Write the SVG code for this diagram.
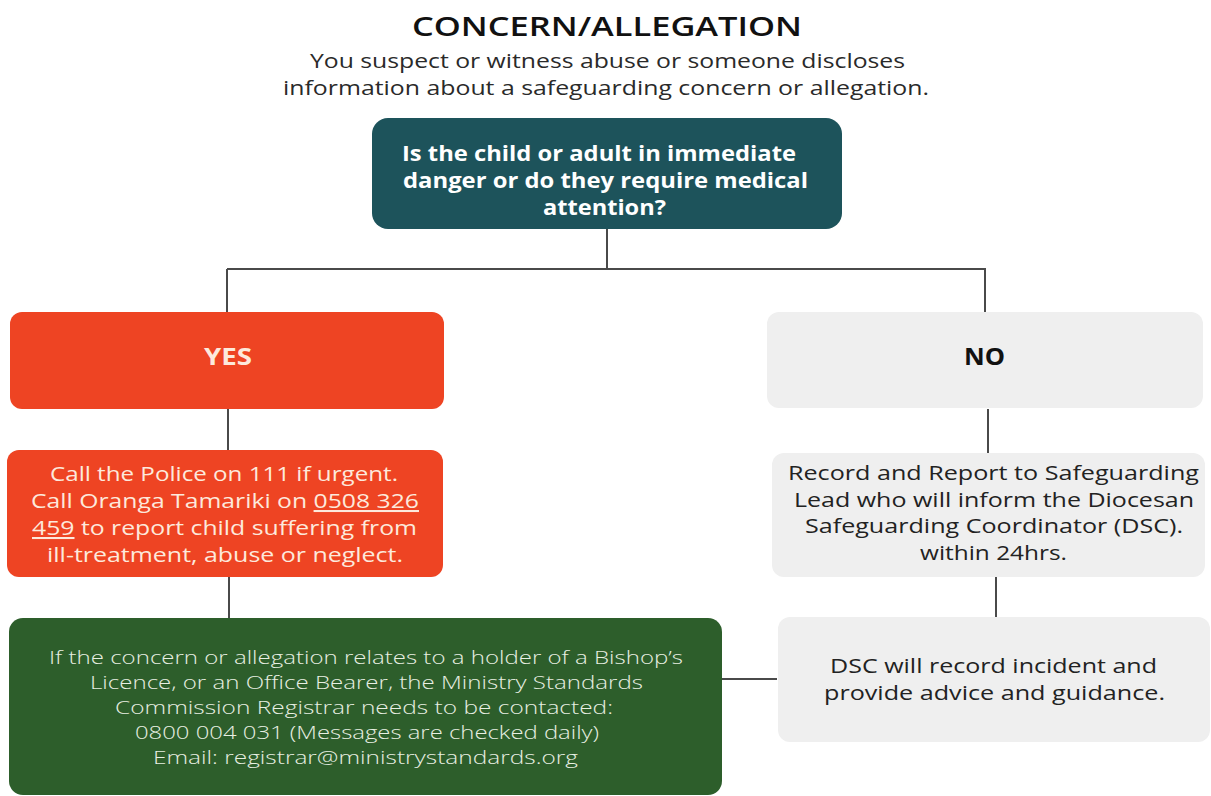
<svg xmlns="http://www.w3.org/2000/svg" width="1211" height="796" viewBox="0 0 1211 796">
  <style>
    text { font-family: "Open Sans", "Liberation Sans", sans-serif; }
    .title { font-size: 27px; font-weight: 600; fill: #111; }
    .sub { font-size: 20px; fill: #2a2a2a; }
    .q { font-size: 20.5px; font-weight: 700; fill: #ffffff; }
    .head { font-size: 24px; font-weight: 700; }
    .body { font-size: 20.5px; }
    .light { font-size: 18px; font-weight: 300; fill: #e8efe2; }
    .conn { stroke: #4a4a4a; stroke-width: 2; fill: none; }
  </style>
  <rect width="1211" height="796" fill="#ffffff"/>

  <g id="title">
    <text class="title" x="412" y="36" textLength="390" lengthAdjust="spacingAndGlyphs">CONCERN/ALLEGATION</text>
    <text class="sub" x="310" y="68" textLength="595" lengthAdjust="spacingAndGlyphs">You suspect  or witness  abuse or someone discloses</text>
    <text class="sub" x="283" y="95" textLength="646" lengthAdjust="spacingAndGlyphs">information about  a safeguarding concern or allegation.</text>
  </g>

  <g id="connectors">
    <path class="conn" d="M607 229 V269 M227 269 H986 M227 269 V312 M985 269 V312"/>
    <path class="conn" d="M228 409 V450"/>
    <path class="conn" d="M229 577 V618"/>
    <path class="conn" d="M988 409 V453"/>
    <path class="conn" d="M996 577 V617"/>
    <path class="conn" d="M722 679 H777"/>
  </g>

  <g id="question">
    <rect x="372" y="118" width="470" height="111" rx="16" fill="#1d535b"/>
    <text class="q" x="402" y="161" textLength="394" lengthAdjust="spacingAndGlyphs">Is the child or adult in immediate</text>
    <text class="q" x="403" y="188" textLength="405" lengthAdjust="spacingAndGlyphs">danger or do they require medical</text>
    <text class="q" x="543" y="215" textLength="123" lengthAdjust="spacingAndGlyphs">attention?</text>
  </g>

  <g id="yes">
    <rect x="10" y="312" width="434" height="97" rx="12" fill="#ee4423"/>
    <text class="head" x="204" y="365" fill="#fde9dc" textLength="48" lengthAdjust="spacingAndGlyphs">YES</text>
  </g>

  <g id="call-police">
    <rect x="7" y="450" width="436" height="127" rx="12" fill="#ee4423"/>
    <g class="body" fill="#fde9dc">
      <text x="50" y="481" textLength="348" lengthAdjust="spacingAndGlyphs">Call the Police  on 111 if urgent.</text>
      <text x="31" y="508" textLength="388" lengthAdjust="spacingAndGlyphs">Call Oranga Tamariki on <tspan text-decoration="underline">0508 326</tspan></text>
      <text x="32" y="535" textLength="385" lengthAdjust="spacingAndGlyphs"><tspan text-decoration="underline">459</tspan> to report child suffering from</text>
      <text x="47" y="562" textLength="356" lengthAdjust="spacingAndGlyphs">ill-treatment, abuse or neglect.</text>
    </g>
  </g>

  <g id="registrar">
    <rect x="9" y="618" width="713" height="177" rx="14" fill="#2d5e2b"/>
    <g class="light">
      <text x="49" y="664" textLength="634" lengthAdjust="spacingAndGlyphs">If the concern or allegation relates to a holder of a Bishop’s</text>
      <text x="90" y="689" textLength="553" lengthAdjust="spacingAndGlyphs">Licence, or an Office Bearer, the Ministry Standards</text>
      <text x="115" y="714" textLength="498" lengthAdjust="spacingAndGlyphs">Commission Registrar needs to be contacted:</text>
      <text x="135" y="739" textLength="464" lengthAdjust="spacingAndGlyphs">0800 004 031 (Messages are checked daily)</text>
      <text x="153" y="764" textLength="425" lengthAdjust="spacingAndGlyphs">Email: registrar@ministrystandards.org</text>
    </g>
  </g>

  <g id="no">
    <rect x="767" y="312" width="436" height="96" rx="12" fill="#efefef"/>
    <text class="head" x="964" y="365" fill="#111" textLength="41" lengthAdjust="spacingAndGlyphs">NO</text>
  </g>

  <g id="record-report">
    <rect x="772" y="453" width="433" height="124" rx="12" fill="#efefef"/>
    <g class="body" fill="#222">
      <text x="788" y="480" textLength="411" lengthAdjust="spacingAndGlyphs">Record and Report to Safeguarding</text>
      <text x="794" y="507" textLength="400" lengthAdjust="spacingAndGlyphs">Lead who will inform the Diocesan</text>
      <text x="805" y="533" textLength="378" lengthAdjust="spacingAndGlyphs">Safeguarding Coordinator (DSC).</text>
      <text x="920" y="560" textLength="147" lengthAdjust="spacingAndGlyphs">within 24hrs.</text>
    </g>
  </g>

  <g id="dsc">
    <rect x="778" y="617" width="432" height="125" rx="12" fill="#efefef"/>
    <g class="body" fill="#222">
      <text x="830" y="673" textLength="327" lengthAdjust="spacingAndGlyphs">DSC will record incident and</text>
      <text x="824" y="700" textLength="341" lengthAdjust="spacingAndGlyphs">provide advice and guidance.</text>
    </g>
  </g>
</svg>
